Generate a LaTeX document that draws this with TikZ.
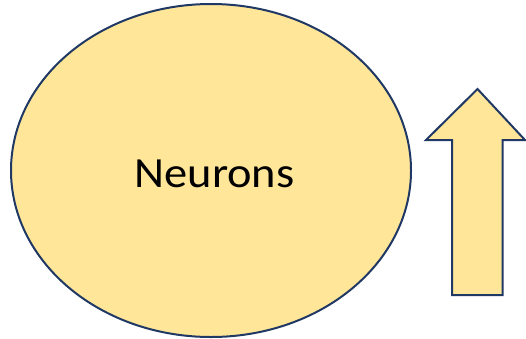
\documentclass[tikz,border=0pt]{standalone}
\usepackage{fontspec}
\setmainfont{Carlito}
\usetikzlibrary{shapes.geometric}
\definecolor{cellfill}{RGB}{255,230,153}
\definecolor{celledge}{RGB}{32,56,100}
\tikzset{
  cell/.style={ellipse, fill=cellfill, draw=celledge, line width=2pt,
    minimum width=400pt, minimum height=333pt, inner sep=0pt},
  label/.style={font=\fontsize{43}{46}\selectfont, text=black, inner sep=0pt},
  bigarrow/.style={fill=cellfill, draw=celledge, line width=2pt, line join=miter},
}
\begin{document}
\begin{tikzpicture}[x=1pt, y=-1pt]
  \useasboundingbox (0,0) rectangle (526,338);
  \node[cell] (neurons) at (211,170.5) {};
  \node[label, anchor=base, xscale=1.08] (name) at (214.5,187) {Neurons};
  % arrow pointing up
  \draw[bigarrow] (452,295) -- (452,140) -- (426,140) -- (477.5,89)
    -- (525,140) -- (502.5,140) -- (502.5,295) -- cycle;
\end{tikzpicture}
\end{document}
